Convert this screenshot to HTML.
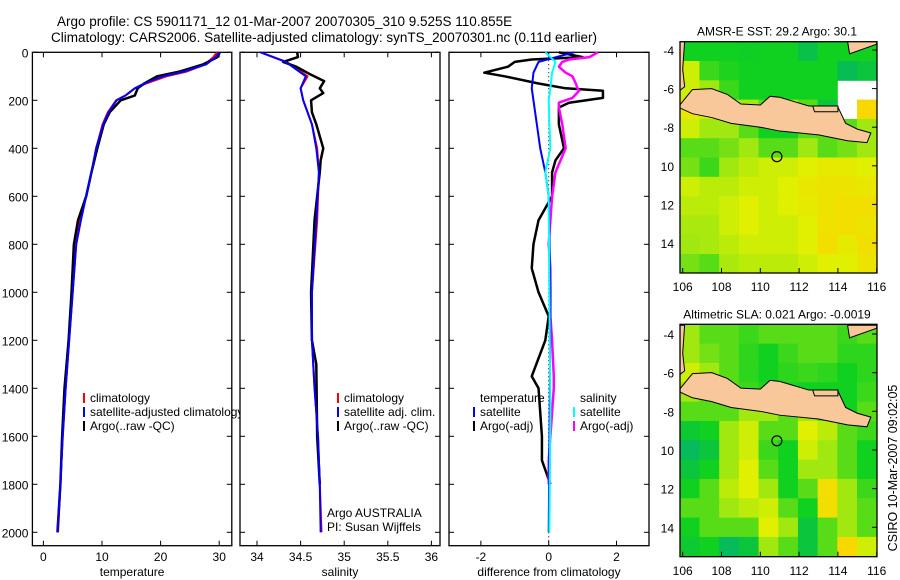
<!DOCTYPE html>
<html><head><meta charset="utf-8"><style>
html,body{margin:0;padding:0;background:#fff}
svg{display:block;font-family:"Liberation Sans",sans-serif}
text{fill:#000}
</style></head><body>
<svg id="c" width="900" height="580" viewBox="0 0 900 580">
<text x="57" y="26" font-size="13.5">Argo profile: CS 5901171_12 01-Mar-2007 20070305_310 9.525S 110.855E</text>
<text x="51" y="42" font-size="13.5">Climatology: CARS2006. Satellite-adjusted climatology: synTS_20070301.nc (0.11d earlier)</text>
<g id="g"></g>
<text transform="translate(897,468) rotate(-90)" text-anchor="middle" font-size="12.5">CSIRO 10-Mar-2007 09:02:05</text>
</svg>
<script>
// ---------- DATA ----------
const depthTicks=[0,200,400,600,800,1000,1200,1400,1600,1800,2000];
const tempTicks=[0,10,20,30];
const salTicks=[34,34.5,35,35.5,36];
const diffTicks=[-2,0,2];
const lonTicks=[106,108,110,112,114,116];
const latTicks=[-4,-6,-8,-10,-12,-14];
const latTickLabels=["-4","-6","-8","10","12","14"];

const tDepth=[0,20,50,80,100,130,150,180,200,250,300,400,500,600,700,800,1000,1200,1400,1600,1800,2000];
const tClim=[29.6,29.0,27.6,24.5,21.0,17.5,15.6,14.0,12.4,11.0,10.1,9.0,8.2,7.3,6.2,5.6,5.0,4.4,3.8,3.3,2.9,2.5];
const tSat=[30.0,29.4,27.8,24.0,20.4,17.2,15.6,14.0,12.5,11.1,10.2,9.0,8.2,7.3,6.4,5.6,5.0,4.4,3.8,3.3,2.9,2.4];
const tArgo=[30.1,29.7,27.3,23.3,19.4,17.2,16.1,15.6,13.2,11.3,10.3,9.2,8.2,7.3,5.9,5.2,4.8,4.3,3.6,3.2,2.9,2.4];

const sDepth=[0,40,100,150,200,300,400,500,700,1000,1200,1400,1600,1800,2000];
const sClim=[34.04,34.34,34.58,34.5,34.53,34.63,34.69,34.71,34.69,34.63,34.63,34.66,34.70,34.72,34.74];
const sSat=[34.04,34.33,34.56,34.5,34.53,34.63,34.68,34.71,34.68,34.63,34.63,34.66,34.70,34.72,34.73];
const saDepth=[0,20,40,60,90,120,150,170,200,250,300,350,400,450,500,700,1000,1200,1300,1600,1800];
const sArgo=[34.46,34.47,34.3,34.45,34.6,34.77,34.72,34.76,34.62,34.63,34.68,34.72,34.76,34.73,34.72,34.66,34.62,34.63,34.68,34.69,34.72];

const dDepth=[0,20,30,40,60,85,100,130,150,160,190,210,230,300,400,450,500,600,700,800,900,1000,1100,1200,1350,1400,1600,1700,1800];
const dTempArgo=[0.3,1.0,-0.5,-1.0,-1.2,-1.9,-1.3,-0.3,0.5,1.6,1.6,0.6,0.3,0.3,0.45,0.2,0.1,0.1,-0.3,-0.45,-0.5,-0.3,0,-0.1,-0.5,-0.3,-0.2,-0.2,0.05];
const dSalArgo=[1.45,1.2,0.6,0.4,0.3,0.5,0.7,0.8,0.85,0.9,0.7,0.3,0.3,0.4,0.5,0.35,0.2,0.1,0.05,0,0.05,0.05,0.05,0.1,0.15,0.15,0.05,0,0];
const sdDepth=[0,40,85,150,200,300,400,500,600,1000,1500,2000];
const dTempSat=[0.75,-0.3,-0.45,-0.5,-0.45,-0.35,-0.25,-0.1,0,0.05,0.03,0];
const dSalSat=[-0.1,0.2,0.1,0.05,0,0.02,0.05,-0.1,0,0.02,0.05,0.02];

// map grids (1 deg cells, rows from -3.55 southward; cols from 105.85)
const sst=[
[0.45,0.45,0.45,0.44,0.45,0.45,0.38,0.45,0.45,0.45],
[0.60,0.48,0.46,0.45,0.45,0.45,0.45,0.45,0.36,0.40],
[0.60,0.55,0.48,0.45,0.45,0.45,0.45,0.45,null,null],
[0.65,0.60,0.55,0.55,0.50,0.55,0.50,0.40,null,0.70],
[0.60,0.55,0.55,0.50,0.45,0.45,0.50,0.50,0.50,0.55],
[0.50,0.50,0.52,0.55,0.50,0.50,0.55,0.50,0.52,0.55],
[0.52,0.48,0.55,0.58,0.60,0.60,0.62,0.64,0.64,0.62],
[0.60,0.58,0.58,0.60,0.60,0.62,0.65,0.66,0.66,0.65],
[0.58,0.58,0.60,0.62,0.60,0.62,0.64,0.66,0.68,0.68],
[0.56,0.56,0.60,0.62,0.60,0.60,0.62,0.67,0.68,0.66],
[0.55,0.56,0.58,0.60,0.60,0.60,0.62,0.68,0.64,0.68],
[0.52,0.50,0.56,0.58,0.58,0.58,0.60,0.62,0.62,0.66]];
const sla=[
[0.55,0.50,0.50,0.48,0.50,0.50,0.50,0.50,0.48,0.50],
[0.55,0.52,0.50,0.47,0.45,0.48,0.50,0.50,0.47,0.47],
[0.60,0.55,0.50,0.47,0.45,0.47,0.48,0.47,0.45,0.47],
[0.55,0.50,0.50,0.48,0.46,0.46,0.45,0.45,0.45,0.48],
[0.50,0.50,0.50,0.55,0.55,0.50,0.55,0.50,0.45,0.50],
[0.42,0.45,0.55,0.60,0.50,0.50,0.62,0.58,0.50,0.48],
[0.35,0.40,0.55,0.60,0.48,0.45,0.60,0.55,0.50,0.45],
[0.40,0.45,0.55,0.62,0.50,0.45,0.55,0.55,0.50,0.45],
[0.45,0.50,0.58,0.62,0.55,0.45,0.50,0.68,0.55,0.48],
[0.50,0.50,0.55,0.58,0.60,0.50,0.45,0.68,0.55,0.50],
[0.45,0.50,0.50,0.50,0.62,0.55,0.40,0.50,0.55,0.50],
[0.42,0.45,0.35,0.40,0.55,0.50,0.40,0.50,0.70,0.60]];
const java=[[105.85,-6.85],[106.5,-6.05],[107.5,-6.0],[108.3,-6.3],[109,-6.8],[110,-6.85],[110.5,-6.4],[111,-6.45],[111.5,-6.6],[112.5,-6.9],[113,-6.9],[114,-6.95],[114.4,-7.8],[115,-8.1],[115.7,-8.3],[115.5,-8.8],[114.5,-8.7],[113,-8.4],[111,-8.2],[110,-8.0],[108.5,-7.8],[107.5,-7.5],[106.5,-7.3],[105.85,-7.0]];
const madura=[[112.7,-6.9],[114,-6.9],[114,-7.2],[112.8,-7.2]];
const sumatra=[[105.85,-3.55],[106.1,-3.55],[106.0,-5.0],[106.1,-5.9],[105.85,-6.1]];
const borneo=[[114.5,-3.55],[116,-3.55],[116,-3.7],[114.6,-4.2]];
const argoPos=[110.855,-9.525];

// ---------- DRAW ----------
const NS='http://www.w3.org/2000/svg';
const G=document.getElementById('g');
function mk(t,a,p){const e=document.createElementNS(NS,t);for(const k in a)e.setAttribute(k,a[k]);(p||G).appendChild(e);return e;}
const Y0=52.3,YS=0.24,BOT=545.7;
const yD=d=>Y0+d*YS;
function panel(name,x0,x1,xf,ticks,tlab,xlabel,showY){
  const g=mk('g',{});
  
  
  const r=mk('rect',{x:x0,y:Y0,width:x1-x0,height:BOT-Y0,fill:'#fff',stroke:'#000','stroke-width':1.3},g);
  
  
  depthTicks.forEach(d=>{const y=yD(d);
    mk('line',{x1:x0,x2:x0+5,y1:y,y2:y,stroke:'#000'},g);mk('line',{x1:x1-5,x2:x1,y1:y,y2:y,stroke:'#000'},g);
    if(showY){const t=mk('text',{x:x0-4,y:y+5,'text-anchor':'end','font-size':12},g);t.textContent=d;
      
      }
  });
  ticks.forEach((v,i)=>{const x=xf(v);
    mk('line',{x1:x,x2:x,y1:BOT,y2:BOT-5,stroke:'#000'},g);mk('line',{x1:x,x2:x,y1:Y0,y2:Y0+5,stroke:'#000'},g);
    const t=mk('text',{x:x,y:561,'text-anchor':'middle','font-size':12},g);t.textContent=tlab[i];
    
    
  });
  const l=mk('text',{x:(x0+x1)/2,y:576,'text-anchor':'middle','font-size':12},g);l.textContent=xlabel;
  
  
  return g;
}
function line(g,xs,ds,xf,col,w,name){
  const p=mk('polyline',{points:xs.map((v,i)=>xf(v)+','+yD(ds[i])).join(' '),fill:'none',stroke:col,'stroke-width':w,'stroke-linejoin':'round'},g);
  
  
}
function legend(g,x,y,items){
  items.forEach((it,i)=>{const yy=y+i*14;
    if(it[0])mk('line',{x1:x,x2:x,y1:yy-9,y2:yy+1,stroke:it[0],'stroke-width':2},g);
    const t=mk('text',{x:x+6,y:yy,'font-size':12},g);t.textContent=it[1];
    
    
  });
}
const xT=v=>43.4+v*5.86;
let g1=panel('temperature-panel',32.4,231.8,xT,tempTicks,tempTicks.map(String),'temperature',true);
line(g1,tClim,tDepth,xT,'#ff0000',2,'temp-climatology-line');
line(g1,tArgo,tDepth,xT,'#000',2.5,'temp-argo-line');
line(g1,tSat,tDepth,xT,'#0000ff',2,'temp-satellite-line');
legend(g1,84,402,[['#ff0000','climatology'],['#0000ff','satellite-adjusted climatology'],['#000','Argo(..raw -QC)']]);
const xS=v=>257+(v-34)*87.2;
let g2=panel('salinity-panel',240,440,xS,salTicks,['34','34.5','35','35.5','36'],'salinity',false);
line(g2,sClim,sDepth,xS,'#ff0000',2,'sal-climatology-line');
line(g2,sArgo,saDepth,xS,'#000',2.5,'sal-argo-line');
line(g2,sSat,sDepth,xS,'#0000ff',2,'sal-satellite-line');
legend(g2,338,402,[['#ff0000','climatology'],['#0000ff','satellite adj. clim.'],['#000','Argo(..raw -QC)']]);
let a1=mk('text',{x:327,y:517,'font-size':12},g2);a1.textContent='Argo AUSTRALIA';


let a2=mk('text',{x:327,y:531,'font-size':12},g2);a2.textContent='PI: Susan Wijffels';


const xDf=v=>548.7+v*33.9;
let g3=panel('difference-panel',449,649,xDf,diffTicks,['-2','0','2'],'difference from climatology',false);
mk('line',{x1:xDf(0),x2:xDf(0),y1:Y0,y2:BOT,stroke:'#000','stroke-dasharray':'1 3'},g3);
line(g3,dTempArgo,dDepth,xDf,'#000',2.5,'diff-temp-argo-line');
line(g3,dSalArgo,dDepth,xDf,'#ff00ff',2.5,'diff-sal-argo-line');
line(g3,dTempSat,sdDepth,xDf,'#0000ff',2,'diff-temp-satellite-line');
line(g3,dSalSat,sdDepth,xDf,'#00ffff',2,'diff-sal-satellite-line');
legend(g3,474,402,[[null,'temperature'],['#0000ff','satellite'],['#000','Argo(-adj)']]);
legend(g3,574,402,[[null,'salinity'],['#00ffff','satellite'],['#ff00ff','Argo(-adj)']]);
const stops=[[0,[0,0,128]],[0.2,[0,96,255]],[0.3,[0,176,120]],[0.45,[16,208,32]],[0.55,[160,232,16]],[0.62,[224,240,0]],[0.7,[248,216,0]],[0.8,[240,144,0]],[0.9,[160,0,0]],[1,[120,0,0]]];
function cmap(v){for(let i=1;i<stops.length;i++){if(v<=stops[i][0]){const [a,ca]=stops[i-1],[b,cb]=stops[i];const t=(v-a)/(b-a);return 'rgb('+ca.map((c,k)=>Math.round(c+(cb[k]-c)*t)).join(',')+')';}}return 'rgb(120,0,0)';}
function map(name,top,bot,lat4,lat14,grid,title,xl){
  const g=mk('g',{});
  
  
  const ps=(lat14-lat4)/10;
  const lx=lo=>682.7+(lo-106)*19.4;
  const LY=la=>lat4+(-4-la)*ps;
  const latTop=-4+(lat4-top)/ps, lonL=105.85;
  const cp='clip-'+name;
  const cpe=mk('clipPath',{id:cp},g);mk('rect',{x:680,y:top,width:197,height:bot-top},cpe);
  const inner=mk('g',{'clip-path':'url(#'+cp+')'},g);
  mk('rect',{x:680,y:top,width:197,height:bot-top,fill:'#fff'},inner);
  grid.forEach((row,r)=>row.forEach((v,c)=>{if(v===null)return;
    const x=lx(lonL+c*1.015),y=LY(latTop-r);
    const cell=mk('rect',{x:x,y:y,width:19.4*1.015+0.5,height:ps+0.5,fill:cmap(v)},inner);
    
    
  }));
  [java,madura,sumatra,borneo].forEach(poly=>{
    const p=mk('polygon',{points:poly.map(q=>lx(q[0])+','+LY(q[1])).join(' '),fill:'#f8c89a',stroke:'#000','stroke-width':1},inner);
    
    
  });
  const ci=mk('circle',{cx:lx(argoPos[0]),cy:LY(argoPos[1]),r:5,fill:'none',stroke:'#000','stroke-width':1.2},inner);
  
  
  mk('rect',{x:680,y:top,width:197,height:bot-top,fill:'none',stroke:'#000','stroke-width':1.3},g);
  latTicks.forEach((la,i)=>{const y=LY(la);mk('line',{x1:872,x2:877,y1:y,y2:y,stroke:'#000'},g);
    const t=mk('text',{x:674,y:y+5,'text-anchor':'end','font-size':12},g);t.textContent=latTickLabels[i];
    
    });
  lonTicks.forEach(lo=>{const x=lx(lo);mk('line',{x1:x,x2:x,y1:bot,y2:bot-5,stroke:'#000'},g);
    const t=mk('text',{x:x,y:xl,'text-anchor':'middle','font-size':12},g);t.textContent=lo;
    
    });
  const tt=mk('text',{x:777,y:top-6,'text-anchor':'middle','font-size':12},g);tt.textContent=title;
  
  
}
map('sst-map',41.7,273,50,243,sst,'AMSR-E SST: 29.2 Argo: 30.1',291);
map('sla-map',324.3,556.7,334,527.3,sla,'Altimetric SLA: 0.021 Argo: -0.0019',575);
</script>
</body></html>
